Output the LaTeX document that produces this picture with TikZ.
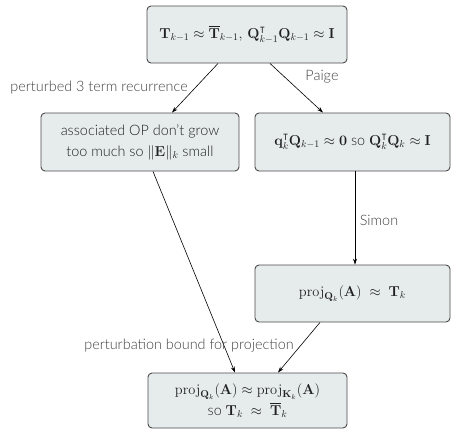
\documentclass[tikz,border=0pt]{standalone}
\usepackage[no-math]{fontspec}
\IfFontExistsTF{Lato Light}{\setmainfont{Lato Light}}{\setmainfont{Lato}}
\usepackage{amsmath,amssymb}
\usetikzlibrary{arrows.meta}
\definecolor{boxfill}{HTML}{E6EBEB}
\definecolor{boxline}{HTML}{4A4A4A}
\definecolor{lbl}{HTML}{404040}
\definecolor{btext}{HTML}{202020}
\tikzset{
  box/.style={draw=boxline, fill=boxfill, line width=0.9pt, rounded corners=4pt,
    minimum width=200pt, minimum height=57pt, align=center, inner sep=2pt,
    text=btext, font=\fontsize{14.4}{21}\selectfont},
  arr/.style={-{Stealth[length=6pt,width=4pt]}, line width=0.6pt, black},
  lab/.style={text=lbl, font=\fontsize{14.4}{17}\selectfont, inner sep=0pt}
}
\begin{document}
\begin{tikzpicture}[x=1pt,y=1pt]
\useasboundingbox (0,0) rectangle (451,-429);
\node[box] (top) at (247,-34.5) {$\mathbf{T}_{k-1}\approx\overline{\mathbf{T}}_{k-1},\,\mathbf{Q}_{k-1}^{\intercal}\mathbf{Q}_{k-1}\approx\mathbf{I}$};
\node[box, minimum width=198pt, minimum height=58pt] (left) at (140,-142) {associated OP don't grow\\too much so $\|\mathbf{E}\|_k$ small};
\node[box, minimum width=195pt, minimum height=58pt] (right) at (352.5,-142) {$\mathbf{q}_k^{\intercal}\mathbf{Q}_{k-1}\approx\mathbf{0}$ so $\mathbf{Q}_k^{\intercal}\mathbf{Q}_k\approx\mathbf{I}$};
\node[box, minimum width=195pt] (simon) at (352.5,-293.5) {$\operatorname{proj}_{\mathbf{Q}_k}(\mathbf{A})\ \approx\ \mathbf{T}_k$};
\node[box, minimum width=199pt, minimum height=55pt] (bottom) at (247.5,-400.5) {$\operatorname{proj}_{\mathbf{Q}_k}(\mathbf{A})\approx\operatorname{proj}_{\mathbf{K}_k}(\mathbf{A})$\\so $\mathbf{T}_k\ \approx\ \overline{\mathbf{T}}_k$};
\draw[arr] ([xshift=-29pt]top.south) -- ([xshift=32pt]left.north);
\draw[arr] ([xshift=23pt]top.south) -- ([xshift=-29.5pt]right.north);
\draw[arr] ([xshift=2.5pt]right.south) -- ([xshift=2.5pt]simon.north);
\draw[arr] ([xshift=13pt]left.south) -- ([xshift=-12.5pt]bottom.north);
\draw[arr] ([xshift=-32.5pt]simon.south) -- ([xshift=30.5pt]bottom.north);
\node[lab] (l1) at (99,-88) {perturbed 3 term recurrence};
\node[lab] (l2) at (322,-77) {Paige};
\node[lab] (l3) at (379,-220) {Simon};
\node[lab] (l4) at (189,-346) {perturbation bound for projection};
\end{tikzpicture}
\end{document}
